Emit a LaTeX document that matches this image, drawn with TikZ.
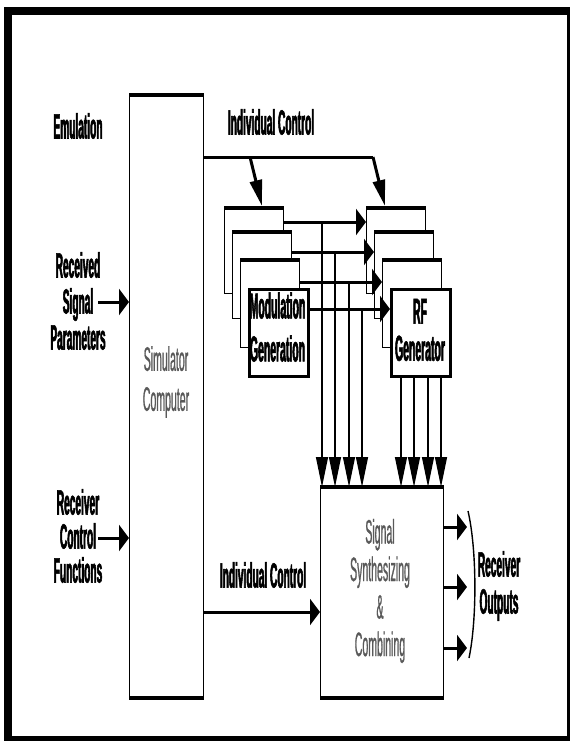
\documentclass[tikz,border=0pt]{standalone}
\usepackage{fontspec}
\newfontfamily\labf[FakeStretch=0.29,FakeBold=1.5]{Liberation Sans}
\newfontfamily\labg[FakeStretch=0.31,FakeBold=0.6]{Liberation Sans}
\usetikzlibrary{arrows.meta,calc}
\begin{document}
\begin{tikzpicture}[x=1pt,y=-1pt,
  lbl/.style={font=\labf\bfseries\fontsize{35}{35}\selectfont, align=center, inner sep=0pt},
  faint/.style={font=\labg\fontsize{34}{38}\selectfont, text=black!65, align=center, inner sep=0pt},
  box/.style={draw=black, line width=1.4pt, fill=white, anchor=north west, inner sep=0pt},
  topedge/.style={line width=4pt},
  conn/.style={line width=3pt, line join=round},
  harrow/.style={line width=3pt, -{Triangle[length=10pt,width=26pt]}},
  varrow/.style={line width=1.3pt, -{Triangle[length=30pt,width=12pt]}},
  darrow/.style={line width=3pt, line join=round, -{Triangle[length=26pt,width=12pt]}},
]
\useasboundingbox (0,0) rectangle (570,741);
\fill[white] (0,0) rectangle (570,741);
% frame
\fill[black] (4,7) rectangle (570,741);
\fill[white] (12,15) rectangle (567,736);

% simulator computer
\node[box, minimum width=74pt, minimum height=602pt] (sim) at (129,95) {};
\draw[topedge] (sim.north west) -- (sim.north east);
\draw[topedge] (sim.south west) -- (sim.south east);
\node[faint, font=\labg\fontsize{34}{40}\selectfont] (simt) at (166,382) {Simulator\\Computer};

% left labels
\node[lbl] (emu) at (78,126) {Emulation};
\node[lbl, font=\labf\bfseries\fontsize{35}{36}\selectfont] (rsp) at (78,301) {Received\\Signal\\Parameters};
\node[lbl, font=\labf\bfseries\fontsize{35}{34}\selectfont] (rcf) at (78,536) {Receiver\\Control\\Functions};
\coordinate (rspA) at (98,302);
\coordinate (rcfA) at (98,538);
\draw[harrow] (rspA) -- (rspA -| sim.west);
\draw[harrow] (rcfA) -- (rcfA -| sim.west);

% modulation stack
\node[box, minimum width=59pt, minimum height=85pt] (m1) at (224,208) {};
\draw[topedge] (m1.north west) -- (m1.north east);
\node[box, minimum width=59pt, minimum height=86pt] (m2) at (232,232) {};
\draw[topedge] (m2.north west) -- (m2.north east);
\node[box, minimum width=59pt, minimum height=87pt] (m3) at (240,260) {};
\draw[topedge] (m3.north west) -- (m3.north east);
\node[box, line width=2.6pt, minimum width=59pt, minimum height=87pt] (m4) at (248,288) {};
\node[lbl, font=\labf\bfseries\fontsize{36}{43}\selectfont] (m4t) at (277.5,327) {Modulation\\Generation};

% RF stack
\node[box, minimum width=59pt, minimum height=85pt] (r1) at (366,208) {};
\draw[topedge] (r1.north west) -- (r1.north east);
\node[box, minimum width=59pt, minimum height=86pt] (r2) at (374,232) {};
\draw[topedge] (r2.north west) -- (r2.north east);
\node[box, minimum width=59pt, minimum height=87pt] (r3) at (382,260) {};
\draw[topedge] (r3.north west) -- (r3.north east);
\node[box, line width=2.6pt, minimum width=59pt, minimum height=87pt] (r4) at (390,288) {};
\node[lbl, font=\labf\bfseries\fontsize{36}{37}\selectfont] (r4t) at (420,330) {RF\\Generator};

% top individual control
\node[lbl] (ict) at (271,122) {Individual Control};
\coordinate (icS) at (203,157);
\coordinate (icB) at (250,157);
\coordinate (icC) at (373,157);
\draw[conn] (icS) -- (icC);
\draw[darrow] (icB) -- ($(m1.north west)+(38,-2)$);
\draw[darrow] (icC) -- ($(r1.north west)+(19,-2)$);

% signal box
\node[box, minimum width=123pt, minimum height=210pt] (sig) at (320,487) {};
\draw[topedge] (sig.north west) -- (sig.north east);
\draw[topedge] (sig.south west) -- (sig.south east);
\node[faint, font=\labg\fontsize{34}{37.5}\selectfont] (sigt) at (380,591) {Signal\\Synthesizing\\\&\\Combining};

% horizontal arrows between stacks
\coordinate (a1) at (283,222);
\coordinate (a2) at (291,252);
\coordinate (a3) at (299,282);
\coordinate (a4) at (307,309);
\draw[harrow] (a1) -- (a1 -| r1.west);
\draw[harrow] (a2) -- (a2 -| r2.west);
\draw[harrow] (a3) -- (a3 -| r3.west);
\draw[harrow] (a4) -- (a4 -| r4.west);

% vertical lines from modulation channels
\coordinate (v1) at (322,222);
\coordinate (v2) at (335,252);
\coordinate (v3) at (349,282);
\coordinate (v4) at (362,309);
\foreach \v in {v1,v2,v3,v4} \draw[varrow] (\v) -- (\v |- sig.north);

% vertical lines from RF generator
\foreach \x [count=\i] in {401,414,428,441} {
  \coordinate (w\i) at (\x,375);
  \draw[varrow] (w\i |- r4.south) -- (w\i |- sig.north);
}

% bottom individual control
\node[lbl] (icb) at (263,575) {Individual Control};
\coordinate (bS) at (203,612);
\draw[harrow] (bS) -- (bS -| sig.west);

% outputs
\foreach \y [count=\i] in {527,587,648} {
  \coordinate (o\i) at (443,\y);
  \draw[harrow] (o\i) -- ++(24,0);
}
\draw[line width=1.4pt] (468,511) .. controls (477,550) and (477,620) .. (469,658);
\node[lbl, font=\labf\bfseries\fontsize{35}{37}\selectfont] (ro) at (499,586) {Receiver\\Outputs};
\end{tikzpicture}
\end{document}
